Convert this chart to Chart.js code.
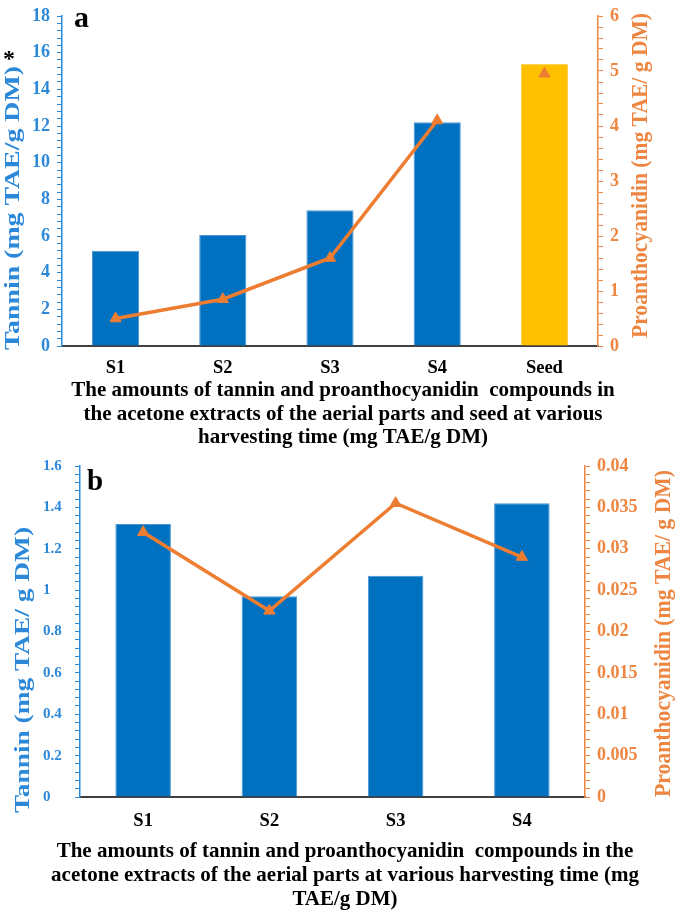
<!DOCTYPE html>
<html><head><meta charset="utf-8">
<script src="https://cdn.jsdelivr.net/npm/chart.js@4.4.1/dist/chart.umd.min.js"></script>
<style>
html,body{margin:0;padding:0;background:#fff;width:685px;height:914px;overflow:hidden}
#wa{position:absolute;left:0;top:0;width:685px;height:450px}
#wb{position:absolute;left:0;top:450px;width:685px;height:464px}
</style></head><body>
<div id="wa"><canvas id="ca"></canvas></div>
<div id="wb"><canvas id="cb"></canvas></div>
<script>
// ---------- data (panel a) ----------
const categoriesA = ['S1', 'S2', 'S3', 'S4', 'Seed'];
const tanninA = [5.2, 6.05, 7.4, 12.2, 15.4];
const proanthoA = [0.5, 0.85, 1.6, 4.1, null];
const proanthoSeedA = [null, null, null, null, 4.95];
const tanninTicksA = [0, 2, 4, 6, 8, 10, 12, 14, 16, 18];
const proanthoTicksA = [0, 1, 2, 3, 4, 5, 6];
// ---------- data (panel b) ----------
const categoriesB = ['S1', 'S2', 'S3', 'S4'];
const tanninB = [1.32, 0.97, 1.07, 1.42];
const proanthoB = [0.032, 0.0225, 0.0355, 0.029];
const tanninTicksB = [0, 0.2, 0.4, 0.6, 0.8, 1, 1.2, 1.4, 1.6];
const proanthoTicksB = [0, 0.005, 0.01, 0.015, 0.02, 0.025, 0.03, 0.035, 0.04];
// ---------- texts ----------
const xTitleA = ['The amounts of tannin and proanthocyanidin  compounds in',
                 'the acetone extracts of the aerial parts and seed at various',
                 'harvesting time (mg TAE/g DM)'];
const xTitleB = ['The amounts of tannin and proanthocyanidin  compounds in the',
                 'acetone extracts of the aerial parts at various harvesting time (mg',
                 'TAE/g DM)'];
const yTitleA = 'Tannin (mg TAE/g DM)';
const yTitleB = 'Tannin (mg TAE/ g DM)';
const y1Title = 'Proanthocyanidin (mg TAE/ g DM)';

const FONT = "'Liberation Serif', 'Times New Roman', serif";
const BLUE = '#0070C0';
const AXBLUE = '#2C89D9';
const YELLOW = '#FFC000';
const ORANGE = '#ED7D31';
const AXORANGE = '#EE8540';

const textPlugin = {
  id: 'customText',
  afterDraw(chart, args, opts) {
    const ctx = chart.ctx;
    (opts.items || []).forEach(it => {
      ctx.save();
      ctx.translate(it.x, it.y);
      if (it.rot) ctx.rotate(it.rot);
      ctx.font = it.font;
      ctx.fillStyle = it.color;
      ctx.textAlign = it.align || 'center';
      ctx.textBaseline = it.baseline || 'alphabetic';
      if (it.len) {
        const w = ctx.measureText(it.text).width;
        ctx.scale(it.len / w, 1);
      }
      ctx.fillText(it.text, 0, 0);
      ctx.restore();
    });
  }
};
Chart.register(textPlugin);

function isIn(list, v) { return list.some(t => Math.abs(t - v) < 1e-9); }
function fmt(v) { return String(Number(v.toFixed(6))); }

function yScale(pos, min, max, step, majors, color, size, width, crossAlign) {
  return {
    type: 'linear', position: pos, min: min, max: max,
    grid: { display: true, drawOnChartArea: false, drawTicks: true, tickLength: 5, color: color, tickColor: color, tickWidth: 1 },
    border: { display: true, color: color, width: 1.5 },
    ticks: {
      stepSize: step, autoSkip: false, color: color, padding: 7,
      crossAlign: crossAlign || 'near',
      font: { family: FONT, size: size, weight: 'bold', lineHeight: 1 },
      callback: v => isIn(majors, v) ? fmt(v) : ''
    },
    afterFit: s => { s.width = width; }
  };
}

function xScale(height, pad) {
  return {
    type: 'category', offset: true,
    grid: { display: false, drawTicks: false },
    border: { display: true, color: '#404040', width: 2 },
    ticks: { color: '#000', padding: pad, maxRotation: 0, autoSkip: false,
             font: { family: FONT, size: 18.5, weight: 'bold', lineHeight: 1 } },
    afterFit: s => { s.height = height; }
  };
}

function lineDs(data, showLine) {
  return {
    type: 'line', data: data, yAxisID: 'y1', order: 0,
    borderColor: ORANGE, backgroundColor: ORANGE, borderWidth: 3.5,
    pointStyle: 'triangle', pointRadius: 6.5, pointBorderWidth: 1,
    pointBorderColor: ORANGE, pointBackgroundColor: ORANGE,
    showLine: showLine, spanGaps: false, tension: 0
  };
}

// ---------- chart a ----------
new Chart(document.getElementById('ca'), {
  type: 'bar',
  data: {
    labels: categoriesA,
    datasets: [
      lineDs(proanthoA, true),
      lineDs(proanthoSeedA, false),
      {
        type: 'bar', data: tanninA, yAxisID: 'y', order: 1,
        backgroundColor: categoriesA.map(c => c === 'Seed' ? YELLOW : BLUE),
        borderColor: categoriesA.map(c => c === 'Seed' ? '#FFD04A' : '#4A94D6'),
        borderWidth: 1, categoryPercentage: 1, barPercentage: 0.44
      }
    ]
  },
  options: {
    responsive: true, maintainAspectRatio: false, animation: false,
    layout: { padding: { top: 10, left: 0, right: 0, bottom: 0 } },
    plugins: {
      legend: { display: false }, tooltip: { enabled: false },
      customText: { items: [
        { text: 'a', x: 74, y: 27, font: 'bold 30px ' + FONT, color: '#000', align: 'left' },
        { text: yTitleA, x: 19, y: 208, rot: -Math.PI / 2, font: 'bold 20px ' + FONT, color: AXBLUE, len: 284 },
        { text: '*', x: 9, y: 66, font: 'bold 24px ' + FONT, color: '#000' },
        { text: y1Title, x: 647, y: 175.5, rot: -Math.PI / 2, font: 'bold 23px ' + FONT, color: AXORANGE, len: 325 },
        { text: xTitleA[0], x: 343, y: 391, font: 'bold 21px ' + FONT, color: '#000', baseline: 'middle' },
        { text: xTitleA[1], x: 343, y: 415, font: 'bold 21px ' + FONT, color: '#000', baseline: 'middle' },
        { text: xTitleA[2], x: 343, y: 438, font: 'bold 21px ' + FONT, color: '#000', baseline: 'middle' }
      ] }
    },
    scales: {
      x: xScale(104, 13),
      y: yScale('left', 0, 18, 0.4, tanninTicksA, AXBLUE, 18, 62),
      y1: yScale('right', 0, 6, 0.2, proanthoTicksA, AXORANGE, 18, 87)
    }
  }
});

// ---------- chart b ----------
new Chart(document.getElementById('cb'), {
  type: 'bar',
  data: {
    labels: categoriesB,
    datasets: [
      lineDs(proanthoB, true),
      {
        type: 'bar', data: tanninB, yAxisID: 'y', order: 1,
        backgroundColor: BLUE, borderColor: '#4A94D6',
        borderWidth: 1, categoryPercentage: 1, barPercentage: 0.44
      }
    ]
  },
  options: {
    responsive: true, maintainAspectRatio: false, animation: false,
    layout: { padding: { top: 15, left: 43, right: 0, bottom: 0 } },
    plugins: {
      legend: { display: false }, tooltip: { enabled: false },
      customText: { items: [
        { text: 'b', x: 87, y: 40, font: 'bold 29px ' + FONT, color: '#000', align: 'left' },
        { text: yTitleB, x: 29, y: 220, rot: -Math.PI / 2, font: 'bold 20px ' + FONT, color: AXBLUE, len: 286 },
        { text: y1Title, x: 670, y: 183.5, rot: -Math.PI / 2, font: 'bold 23px ' + FONT, color: AXORANGE, len: 327 },
        { text: xTitleB[0], x: 345, y: 402, font: 'bold 21px ' + FONT, color: '#000', baseline: 'middle' },
        { text: xTitleB[1], x: 345, y: 426, font: 'bold 21px ' + FONT, color: '#000', baseline: 'middle' },
        { text: xTitleB[2], x: 345, y: 450, font: 'bold 21px ' + FONT, color: '#000', baseline: 'middle' }
      ] }
    },
    scales: {
      x: xScale(117, 15),
      y: yScale('left', 0, 1.6, 0.04, tanninTicksB, AXBLUE, 15, 37, 'far'),
      y1: yScale('right', 0, 0.04, 0.001, proanthoTicksB, AXORANGE, 18, 100)
    }
  }
});
</script>
</body></html>
